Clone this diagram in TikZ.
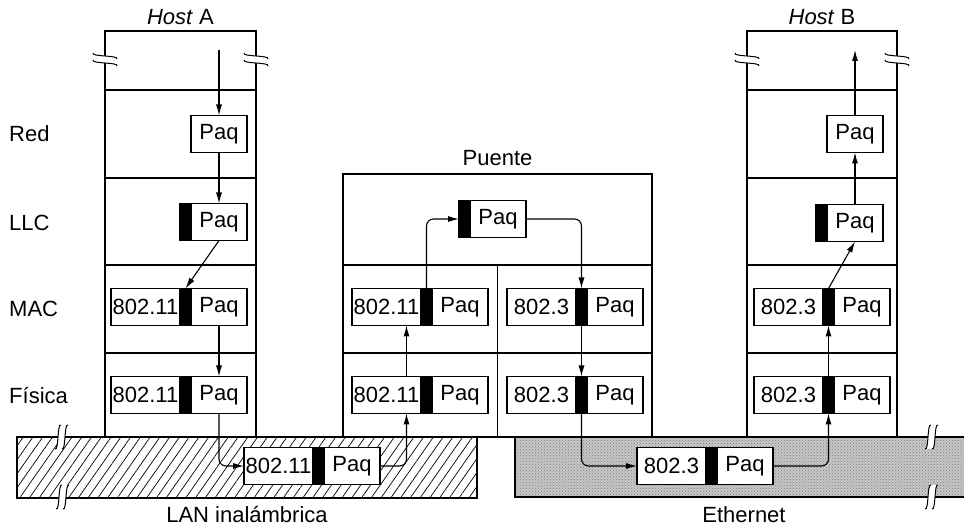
\documentclass[tikz,border=0pt]{standalone}
\usepackage{fontspec}
\setmainfont{Liberation Sans}
\usetikzlibrary{arrows.meta, patterns, patterns.meta}

\tikzset{
  capa/.style={draw, line width=1.2pt},
  cab/.style={draw, line width=1.2pt, fill=white, minimum width=69pt, minimum height=37pt, inner sep=0pt, outer sep=0pt, anchor=west},
  barra/.style={draw, line width=1.2pt, fill=black, minimum width=11pt, minimum height=37pt, inner sep=0pt, outer sep=0pt, anchor=west},
  paq/.style={draw, line width=1.2pt, fill=white, minimum width=56pt, minimum height=37pt, inner sep=0pt, outer sep=0pt, anchor=west},
  flecha/.style={->, line width=1.1pt, rounded corners=7pt},
  rotulo/.style={inner sep=0pt, anchor=base},
}

% trama completa: nombre, x, y, cabecera
\newcommand{\trama}[4]{%
  \node[cab] (#1h) at (#2,#3) {#4};
  \node[barra] (#1b) at (#1h.east) {};
  \node[paq] (#1p) at (#1b.east) {Paq};
}
% paquete con cabecera LLC: nombre, x, y
\newcommand{\paqllc}[3]{%
  \node[barra] (#1b) at (#2,#3) {};
  \node[paq] (#1p) at (#1b.east) {Paq};
}
% marca de corte: x, y, giro
\newcommand{\corte}[3]{%
  \begin{scope}[shift={(#1,#2)}, rotate=#3]
    \fill[white] (-6,12) .. controls (-2,14) and (-4,-14) .. (0,-12) -- (7,-12) .. controls (3,-14) and (5,14) .. (1,12) -- cycle;
    \draw[line width=1pt] (-6,12) .. controls (-2,14) and (-4,-14) .. (0,-12);
    \draw[line width=1pt] (1,12) .. controls (5,14) and (3,-14) .. (7,-12);
  \end{scope}
}

\begin{document}
\begin{tikzpicture}[>={Latex[length=11pt,width=6pt]}, x=1pt, y=-1pt,
  font=\fontsize{22}{26}\selectfont]

\useasboundingbox (0,0) rectangle (964,526);

% --- Medios ---
\path[pattern={Lines[angle=55, distance=8pt, line width=0.7pt]}] (17,437) rectangle (477,498);
\draw[capa] (17,437) rectangle (477,498);
\fill[black!22] (515,437) rectangle (964,497);
\path[pattern=crosshatch dots, pattern color=black!50] (515,437) rectangle (964,497);
\draw[capa] (964,437) -- (515,437) -- (515,497) -- (964,497);

% --- Pilas de capas ---
\draw[capa] (105,437) -- (105,31) -- (256,31) -- (256,437);
\draw[capa] (747,437) -- (747,31) -- (897,31) -- (897,437);
\foreach \y in {90,178,265,353} {
  \draw[capa] (105,\y) -- (256,\y);
  \draw[capa] (747,\y) -- (897,\y);
}
\draw[capa] (343,174) rectangle (652,437);
\draw[capa] (343,265) -- (652,265);
\draw[capa] (343,353) -- (652,353);
\draw[capa] (497.5,265) -- (497.5,437);

% --- Cortes ---
\corte{105}{60}{90}
\corte{256}{60}{90}
\corte{747}{60}{90}
\corte{897}{60}{90}
\corte{61}{437}{0}
\corte{62}{497}{0}
\corte{931}{437}{0}
\corte{931}{497}{0}

% --- Rotulos ---
\node[rotulo] (hostA) at (180.5,25) {\itshape Host\/\upshape{} A};
\node[rotulo] (hostB) at (822,25) {\itshape Host\/\upshape{} B};
\node[rotulo] (puente) at (497.5,166) {Puente};
\node[rotulo] (lanw) at (247,522) {LAN inalámbrica};
\node[rotulo] (ether) at (744,522) {Ethernet};
\node[inner sep=0pt, anchor=west] (lRed) at (9,134) {Red};
\node[inner sep=0pt, anchor=west] (lLlc) at (9,223) {LLC};
\node[inner sep=0pt, anchor=west] (lMac) at (9,309) {MAC};
\node[inner sep=0pt, anchor=west] (lFis) at (9,396) {Física};

% --- Host A ---
\node[paq] (aRed) at (191,134) {Paq};
\paqllc{aLlc}{180}{222}
\trama{aMac}{111}{307}{802.11}
\trama{aFis}{111}{395}{802.11}
\coordinate (aIn) at (219,50);

% --- Puente ---
\paqllc{pTop}{459}{219}
\trama{pMacI}{352}{307}{802.11}
\trama{pFisI}{352}{395}{802.11}
\trama{pMacD}{507}{307}{802.3}
\trama{pFisD}{507}{395}{802.3}

% --- Tramas en los medios ---
\trama{lan}{244}{466}{802.11}
\trama{eth}{637}{466}{802.3}

% --- Host B ---
\node[paq] (bRed) at (827,134) {Paq};
\paqllc{bLlc}{816}{223}
\trama{bMac}{754}{307}{802.3}
\trama{bFis}{754}{395}{802.3}
\coordinate (bOut) at (855,50);

% --- Recorrido del paquete ---
\draw[flecha] (aIn) -- (aRed.north);
\draw[flecha] (aRed.south) -- (aLlcp.north);
\draw[flecha] (aLlcp.south) -- (aMacb.north);
\draw[flecha] (aMacp.south) -- (aFisp.north);
\draw[flecha] (aFisp.south) |- (lanh.west);
\draw[flecha] (lanp.east) -| ([xshift=20pt]pFisIh.south);
\draw[flecha] ([xshift=20pt]pFisIh.north) -- ([xshift=20pt]pMacIh.south);
\draw[flecha] (pMacIb.north) |- (pTopb.west);
\draw[flecha] (pTopp.east) -| (pMacDb.north);
\draw[flecha] (pMacDb.south) -- (pFisDb.north);
\draw[flecha] (pFisDb.south) |- (ethh.west);
\draw[flecha] (ethp.east) -| (bFisb.south);
\draw[flecha] (bFisb.north) -- (bMacb.south);
\draw[flecha] (bMacb.north) -- (bLlcp.south);
\draw[flecha] (bLlcp.north) -- (bRed.south);
\draw[flecha] (bRed.north) -- (bOut);

\end{tikzpicture}
\end{document}
